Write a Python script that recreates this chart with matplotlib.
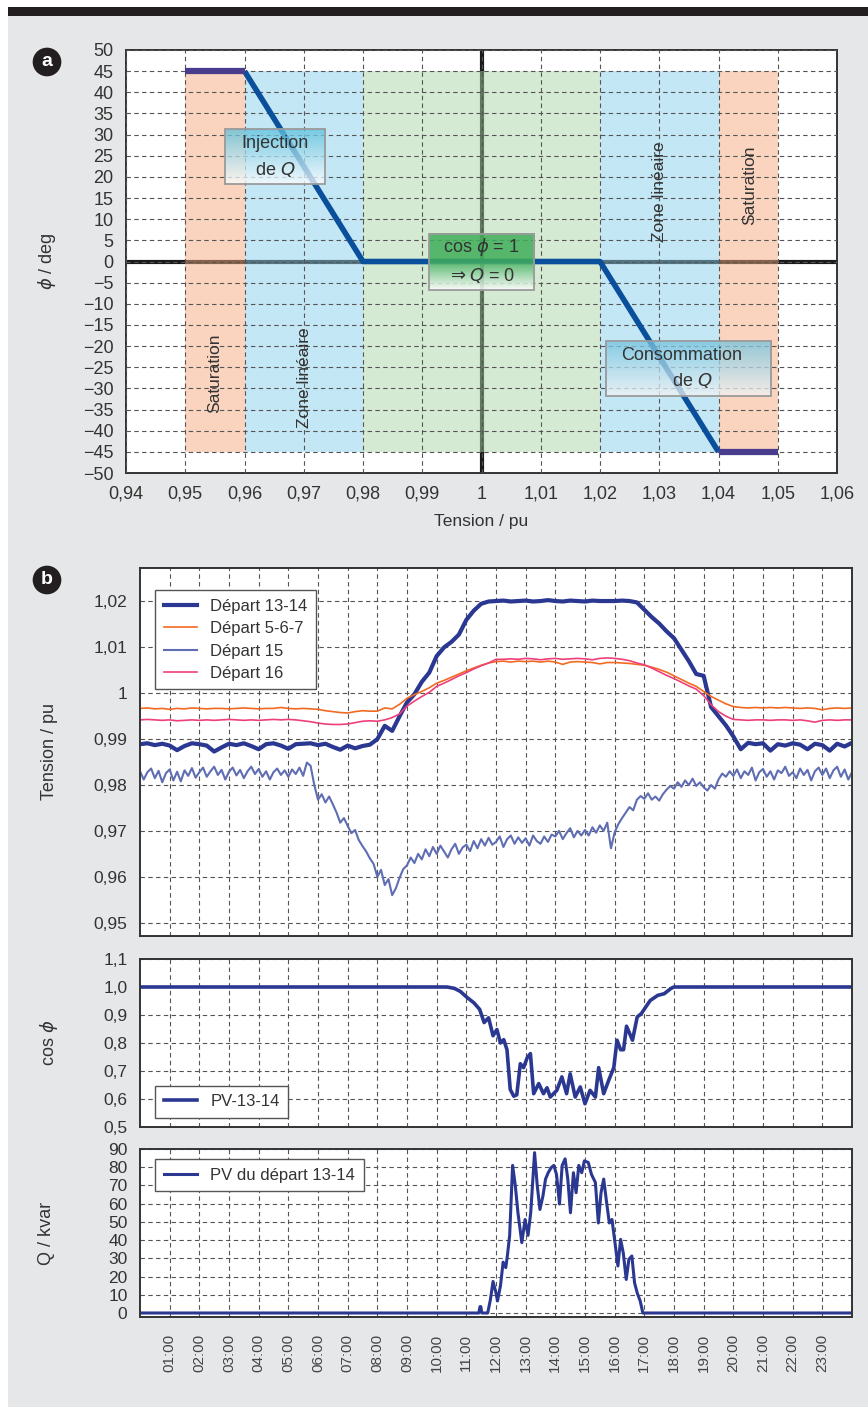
import numpy as np
import matplotlib
matplotlib.use('Agg')
import matplotlib.pyplot as plt
from matplotlib.patches import Rectangle
from matplotlib.colors import to_rgb

plt.rcParams['font.family'] = ['Liberation Sans', 'DejaVu Sans']
plt.rcParams['text.color'] = '#333333'
plt.rcParams['axes.labelcolor'] = '#333333'
plt.rcParams['xtick.color'] = '#333333'
plt.rcParams['ytick.color'] = '#333333'

# ---------------- panel a : control law phi(U) ----------------
u_law = [0.96, 0.98, 1.02, 1.04]
phi_law = [45, 0, 0, -45]
u_sat_low = [0.95, 0.96]
phi_sat_low = [45, 45]
u_sat_high = [1.04, 1.05]
phi_sat_high = [-45, -45]
zone_edges = [0.95, 0.96, 0.98, 1.02, 1.04, 1.05]
zone_names = ['Saturation', 'Zone linéaire', '', 'Zone linéaire', 'Saturation']
u_ticks = [0.94, 0.95, 0.96, 0.97, 0.98, 0.99, 1.00, 1.01, 1.02, 1.03, 1.04, 1.05, 1.06]
u_labels = ['0,94', '0,95', '0,96', '0,97', '0,98', '0,99', '1', '1,01', '1,02',
            '1,03', '1,04', '1,05', '1,06']
phi_ticks = list(range(-50, 51, 5))

# ---------------- panel b : measured day ----------------
hours = np.arange(0, 24.01, 0.25)
dep_13_14 = [
    0.9889, 0.9891, 0.9887, 0.9890, 0.9886, 0.9876, 0.9885, 0.9891,
    0.9889, 0.9886, 0.9873, 0.9882, 0.9890, 0.9887, 0.9891, 0.9885,
    0.9878, 0.9889, 0.9891, 0.9886, 0.9879, 0.9889, 0.9890, 0.9891,
    0.9887, 0.9890, 0.9883, 0.9877, 0.9886, 0.9880, 0.9885, 0.9888,
    0.9900, 0.9929, 0.9918, 0.9950, 0.9980, 0.9998, 1.0025, 1.0045,
    1.0081, 1.0100, 1.0112, 1.0128, 1.0160, 1.0180, 1.0195, 1.0200,
    1.0201, 1.0202, 1.0200, 1.0201, 1.0202, 1.0200, 1.0201, 1.0203,
    1.0201, 1.0200, 1.0202, 1.0201, 1.0200, 1.0202, 1.0201, 1.0201,
    1.0201, 1.0202, 1.0201, 1.0198, 1.0182, 1.0166, 1.0152, 1.0135,
    1.0120, 1.0095, 1.0070, 1.0042, 1.0038, 0.9970, 0.9950, 0.9930,
    0.9906, 0.9878, 0.9892, 0.9889, 0.9891, 0.9875, 0.9889, 0.9886,
    0.9891, 0.9888, 0.9878, 0.9890, 0.9887, 0.9875, 0.9890, 0.9884,
    0.9892]
dep_5_6_7 = [
    0.9967, 0.9968, 0.9966, 0.9967, 0.9965, 0.9967, 0.9966, 0.9968,
    0.9967, 0.9966, 0.9967, 0.9967, 0.9966, 0.9967, 0.9968, 0.9967,
    0.9966, 0.9967, 0.9967, 0.9969, 0.9967, 0.9966, 0.9967, 0.9966,
    0.9965, 0.9962, 0.9960, 0.9958, 0.9957, 0.9960, 0.9962, 0.9961,
    0.9961, 0.9968, 0.9966, 0.9976, 0.9989, 0.9997, 1.0004, 1.0012,
    1.0022, 1.0028, 1.0035, 1.0042, 1.0049, 1.0055, 1.0061, 1.0066,
    1.0069, 1.0070, 1.0068, 1.0070, 1.0069, 1.0070, 1.0068, 1.0070,
    1.0068, 1.0063, 1.0068, 1.0069, 1.0068, 1.0067, 1.0064, 1.0067,
    1.0067, 1.0066, 1.0065, 1.0063, 1.0061, 1.0057, 1.0052, 1.0046,
    1.0038, 1.0030, 1.0022, 1.0015, 1.0004, 0.9993, 0.9985, 0.9977,
    0.9971, 0.9969, 0.9968, 0.9969, 0.9968, 0.9969, 0.9968, 0.9969,
    0.9968, 0.9967, 0.9968, 0.9967, 0.9964, 0.9967, 0.9968, 0.9967,
    0.9968]
dep_16 = [
    0.9942, 0.9943, 0.9942, 0.9941, 0.9942, 0.9940, 0.9941, 0.9942,
    0.9941, 0.9942, 0.9941, 0.9942, 0.9943, 0.9942, 0.9941, 0.9942,
    0.9941, 0.9942, 0.9943, 0.9942, 0.9943, 0.9942, 0.9940, 0.9938,
    0.9935, 0.9933, 0.9932, 0.9932, 0.9933, 0.9936, 0.9939, 0.9940,
    0.9939, 0.9942, 0.9947, 0.9955, 0.9972, 0.9983, 0.9993, 1.0002,
    1.0015, 1.0022, 1.0030, 1.0038, 1.0045, 1.0053, 1.0060, 1.0066,
    1.0074, 1.0074, 1.0075, 1.0074, 1.0076, 1.0075, 1.0073, 1.0075,
    1.0076, 1.0074, 1.0075, 1.0076, 1.0075, 1.0073, 1.0076, 1.0077,
    1.0076, 1.0074, 1.0071, 1.0066, 1.0062, 1.0055, 1.0047, 1.0039,
    1.0032, 1.0024, 1.0016, 1.0009, 0.9995, 0.9975, 0.9960, 0.9950,
    0.9943, 0.9942, 0.9941, 0.9942, 0.9942, 0.9941, 0.9942, 0.9942,
    0.9941, 0.9942, 0.9940, 0.9937, 0.9941, 0.9942, 0.9941, 0.9942,
    0.9942]

# Départ 15 is much noisier: read on a finer time step
hours_15 = np.arange(0, 24.01, 0.125)
dep_15 = [
    0.9830, 0.9812, 0.9828, 0.9836, 0.9815, 0.9831, 0.9806, 0.9826,
    0.9834, 0.9810, 0.9829, 0.9808, 0.9832, 0.9820, 0.9837, 0.9816,
    0.9828, 0.9838, 0.9818, 0.9830, 0.9840, 0.9822, 0.9833, 0.9812,
    0.9829, 0.9838, 0.9821, 0.9833, 0.9815, 0.9830, 0.9840, 0.9824,
    0.9835, 0.9818, 0.9830, 0.9812, 0.9828, 0.9836, 0.9822, 0.9832,
    0.9818, 0.9834, 0.9824, 0.9838, 0.9820, 0.9849, 0.9842, 0.9800,
    0.9768, 0.9780, 0.9762, 0.9775, 0.9758, 0.9740, 0.9718, 0.9728,
    0.9711, 0.9695, 0.9702, 0.9680, 0.9667, 0.9655, 0.9640, 0.9628,
    0.9600, 0.9615, 0.9582, 0.9595, 0.9560, 0.9575, 0.9598, 0.9617,
    0.9625, 0.9642, 0.9630, 0.9650, 0.9638, 0.9660, 0.9645, 0.9665,
    0.9650, 0.9668, 0.9655, 0.9642, 0.9660, 0.9672, 0.9650, 0.9664,
    0.9670, 0.9656, 0.9678, 0.9662, 0.9682, 0.9668, 0.9685, 0.9670,
    0.9676, 0.9688, 0.9665, 0.9682, 0.9690, 0.9672, 0.9686, 0.9674,
    0.9684, 0.9668, 0.9690, 0.9678, 0.9672, 0.9688, 0.9676, 0.9692,
    0.9688, 0.9700, 0.9682, 0.9695, 0.9706, 0.9686, 0.9700, 0.9690,
    0.9702, 0.9690, 0.9708, 0.9696, 0.9712, 0.9700, 0.9718, 0.9662,
    0.9697, 0.9715, 0.9728, 0.9740, 0.9752, 0.9745, 0.9768, 0.9776,
    0.9770, 0.9782, 0.9768, 0.9775, 0.9766, 0.9780, 0.9790, 0.9798,
    0.9792, 0.9806, 0.9796, 0.9810, 0.9800, 0.9814, 0.9798, 0.9806,
    0.9795, 0.9788, 0.9800, 0.9792, 0.9812, 0.9825, 0.9818, 0.9830,
    0.9820, 0.9834, 0.9815, 0.9830, 0.9822, 0.9838, 0.9810, 0.9828,
    0.9835, 0.9818, 0.9830, 0.9812, 0.9832, 0.9826, 0.9840, 0.9820,
    0.9828, 0.9815, 0.9836, 0.9822, 0.9833, 0.9810, 0.9830, 0.9838,
    0.9822, 0.9836, 0.9815, 0.9832, 0.9840, 0.9818, 0.9834, 0.9812,
    0.9828]

t_cos = [0, 10.35, 10.6, 10.8, 11.0, 11.26, 11.45, 11.6, 11.75, 11.9, 12.03, 12.15,
         12.26, 12.37, 12.48, 12.6, 12.7, 12.82, 12.93, 13.05, 13.16, 13.27, 13.44,
         13.6, 13.72, 13.83, 13.95, 14.05, 14.22, 14.38, 14.5, 14.67, 14.84, 15.0,
         15.17, 15.35, 15.46, 15.63, 15.8, 15.97, 16.08, 16.2, 16.3, 16.4, 16.6,
         16.76, 16.9, 17.05, 17.2, 17.45, 17.67, 17.9, 18.0, 24]
cos_pv = [1.0, 1.0, 0.995, 0.984, 0.965, 0.943, 0.92, 0.873, 0.89, 0.826, 0.848, 0.80,
          0.812, 0.776, 0.634, 0.61, 0.615, 0.726, 0.712, 0.747, 0.762, 0.619, 0.655,
          0.619, 0.64, 0.607, 0.62, 0.631, 0.679, 0.619, 0.69, 0.607, 0.643, 0.583,
          0.631, 0.607, 0.712, 0.619, 0.667, 0.712, 0.81, 0.776, 0.776, 0.86, 0.81,
          0.893, 0.905, 0.929, 0.952, 0.97, 0.976, 0.995, 1.0, 1.0]

t_q = [0, 11.42, 11.46, 11.49, 11.52, 11.72, 11.81, 11.9, 12.0, 12.05, 12.15, 12.24,
       12.33, 12.39, 12.46, 12.56, 12.65, 12.74, 12.87, 12.98, 13.08, 13.17, 13.3,
       13.39, 13.48, 13.58, 13.67, 13.76, 13.86, 13.95, 14.04, 14.14, 14.23, 14.33,
       14.42, 14.51, 14.61, 14.7, 14.79, 14.89, 14.98, 15.11, 15.22, 15.35, 15.45,
       15.54, 15.63, 15.73, 15.82, 15.91, 16.01, 16.11, 16.2, 16.29, 16.39, 16.48,
       16.58, 16.67, 16.76, 16.86, 16.95, 24]
q_pv = [0, 0, 3.5, 3.5, 0, 0, 7.2, 17.3, 11, 6.6, 14.9, 27.9,
        24.9, 32.3, 42.6, 81, 70, 55, 38.6, 51.3, 42.6, 55, 88,
        70, 56.8, 64, 73.5, 77, 79.8, 81, 76, 59.8, 81, 84.6,
        73.5, 55, 77, 66, 81, 77, 83.5, 82.6, 76, 71.6, 49.4,
        66, 73.5, 60.5, 49.4, 51.3, 38.6, 25.8, 40.4, 33, 18.4, 29.5,
        31.3, 16.6, 11, 6.6, 0, 0]

hour_ticks = list(range(1, 24))
hour_labels = ['%02d:00' % h for h in hour_ticks]
u_ticks_b = [0.95, 0.96, 0.97, 0.98, 0.99, 1.00, 1.01, 1.02]
u_labels_b = ['0,95', '0,96', '0,97', '0,98', '0,99', '1', '1,01', '1,02']
cos_ticks = [0.5, 0.6, 0.7, 0.8, 0.9, 1.0, 1.1]
cos_labels = ['0,5', '0,6', '0,7', '0,8', '0,9', '1,0', '1,1']
q_ticks = list(range(0, 91, 10))

W, H = 868, 1407
GRID = dict(color='#555555', lw=0.8, ls=(0, (4, 3)))
LEG = dict(fontsize=12, frameon=True, fancybox=False, edgecolor='#555555',
           framealpha=1, handlelength=2.0, borderpad=0.5, labelspacing=0.45)


def fbox(l, t, r, b):
    return [l / W, 1 - b / H, (r - l) / W, (b - t) / H]


def grad_box(ax, x0, x1, y0, y1, top, bottom='#ffffff', solid=0.0, alpha=0.75):
    n = 100
    c0 = np.array(to_rgb(top))
    c1 = np.array(to_rgb(bottom))
    f = np.linspace(0, 1, n)
    f = np.clip((f - solid) / (1 - solid), 0, 1)[:, None]
    img = (c0 * (1 - f) + c1 * f)[:, None, :]
    ax.imshow(img, extent=(x0, x1, y0, y1), aspect='auto', origin='upper',
              zorder=5, alpha=alpha, interpolation='bilinear')
    ax.add_patch(Rectangle((x0, y0), x1 - x0, y1 - y0, fc='none', ec='#9a9a9a',
                           lw=1.3, zorder=6))


fig = plt.figure(figsize=(W / 100, H / 100), dpi=100, facecolor='white')
fig.patches.append(Rectangle((8 / W, 0), 1, 1 - 16 / H, transform=fig.transFigure,
                             fc='#e6e7e8', ec='none', zorder=-2))
fig.patches.append(Rectangle((8 / W, 1 - 16 / H), 1, 9 / H, transform=fig.transFigure,
                             fc='#231f20', ec='none', zorder=-1))

for letter, yp in [('a', 62), ('b', 580)]:
    fig.text(47 / W, 1 - yp / H, letter, ha='center', va='center', color='white',
             fontsize=14, fontweight='bold',
             bbox=dict(boxstyle='circle,pad=0.3', fc='#231f20', ec='none'))

# ---------------- panel a ----------------
ax = fig.add_axes(fbox(126, 50, 837, 473))
zone_cols = ['#f7ab7f', '#8bd0ef', '#add7a7', '#8bd0ef', '#f7ab7f']
for i in range(5):
    ax.fill_between([zone_edges[i], zone_edges[i + 1]], -45, 45, color=zone_cols[i],
                    alpha=0.5, lw=0, zorder=1)
ax.axhline(0, color='#1a1a1a', lw=3, zorder=0.5)
ax.axvline(1.0, color='#1a1a1a', lw=3, zorder=0.5)
ax.plot(u_law, phi_law, color='#0a4f9c', lw=4, zorder=4, solid_capstyle='butt')
ax.plot(u_sat_low, phi_sat_low, color='#4a3c8c', lw=4.5, zorder=4, solid_capstyle='butt')
ax.plot(u_sat_high, phi_sat_high, color='#4a3c8c', lw=4.5, zorder=4, solid_capstyle='butt')
ax.set_xlim(0.94, 1.06)
ax.set_ylim(-50, 50)
ax.set_xticks(u_ticks)
ax.set_xticklabels(u_labels)
ax.set_yticks(phi_ticks)
ax.set_yticklabels([str(v).replace('-', '\u2212') for v in phi_ticks])
ax.tick_params(length=0, labelsize=13, pad=9)
ax.set_axisbelow(False)
ax.grid(True, **GRID)
for s in ax.spines.values():
    s.set_color('#333333')
    s.set_linewidth(1.4)
ax.set_xlabel('Tension / pu', fontsize=12.5, labelpad=8)
ax.set_ylabel('$\\phi$ / deg', fontsize=13, labelpad=18)

# zone captions
ax.text(0.955, -26.5, zone_names[0], rotation=90, ha='center', va='center', fontsize=12.5, zorder=7)
ax.text(0.9702, -27.5, zone_names[1], rotation=90, ha='center', va='center', fontsize=12.5, zorder=7)
ax.text(1.0301, 16.5, zone_names[3], rotation=90, ha='center', va='center', fontsize=12.5, zorder=7)
ax.text(1.0453, 18, zone_names[4], rotation=90, ha='center', va='center', fontsize=12.5, zorder=7)

# annotation boxes
grad_box(ax, 0.9567, 0.9736, 18.4, 31.4, '#5cc0dc')
ax.text(0.9652, 27.8, 'Injection', ha='center', va='center', fontsize=13, zorder=7)
ax.text(0.9652, 21.8, 'de $Q$', ha='center', va='center', fontsize=13, zorder=7)
grad_box(ax, 0.9911, 1.0089, -6.7, 6.6, '#3fae5a', solid=0.5, alpha=0.85)
ax.text(1.0, 3.5, 'cos $\\phi$ = 1', ha='center', va='center', fontsize=13, zorder=7)
ax.text(1.0, -3.2, '$\\Rightarrow Q$ = 0', ha='center', va='center', fontsize=13, zorder=7)
grad_box(ax, 1.0210, 1.0489, -31.8, -18.8, '#73c3de', bottom='#f4f4f4')
ax.text(1.0338, -22.2, 'Consommation', ha='center', va='center', fontsize=13, zorder=7)
ax.text(1.0355, -28.2, 'de $Q$', ha='center', va='center', fontsize=13, zorder=7)

# ---------------- panel b ----------------
navy = '#2b3892'


def style_b(a):
    a.set_xlim(0, 24)
    a.set_xticks(hour_ticks)
    a.grid(True, **GRID)
    a.tick_params(length=0, labelsize=12.5, pad=9)
    for s in a.spines.values():
        s.set_color('#333333')
        s.set_linewidth(1.4)


ax1 = fig.add_axes(fbox(140, 568, 852, 936))
ax1.plot(hours, dep_13_14, color=navy, lw=3, label='Départ 13-14')
ax1.plot(hours, dep_5_6_7, color='#f26a21', lw=1.2, label='Départ 5-6-7')
ax1.plot(hours_15, dep_15, color='#5f6db3', lw=1.5, label='Départ 15')
ax1.plot(hours, dep_16, color='#ee3f7a', lw=1.2, label='Départ 16')
style_b(ax1)
ax1.set_ylim(0.9471, 1.0273)
ax1.set_yticks(u_ticks_b)
ax1.set_yticklabels(u_labels_b)
ax1.set_xticklabels([])
ax1.set_ylabel('Tension / pu', fontsize=13, labelpad=26)
ax1.legend(loc='upper left', bbox_to_anchor=(0.01, 0.962), **LEG)

ax2 = fig.add_axes(fbox(140, 959, 852, 1127))
ax2.plot(t_cos, cos_pv, color=navy, lw=2.6, label='PV-13-14')
style_b(ax2)
ax2.set_ylim(0.5, 1.1)
ax2.set_yticks(cos_ticks)
ax2.set_yticklabels(cos_labels)
ax2.set_xticklabels([])
ax2.set_ylabel('cos $\\phi$', fontsize=13, labelpad=31)
ax2.legend(loc='lower left', bbox_to_anchor=(0.01, 0.006), **LEG)

ax3 = fig.add_axes(fbox(140, 1149, 852, 1317))
ax3.plot(t_q, q_pv, color=navy, lw=2.2, label='PV du départ 13-14')
style_b(ax3)
ax3.set_ylim(-2.2, 90)
ax3.set_yticks(q_ticks)
ax3.set_xticklabels(hour_labels, rotation=90, fontsize=11, color='#444444')
ax3.tick_params(axis='x', pad=12)
ax3.set_ylabel('Q / kvar', fontsize=13, labelpad=38)
ax3.legend(loc='upper left', bbox_to_anchor=(0.01, 0.988), **LEG)

fig.savefig('out.png', dpi=100, facecolor=fig.get_facecolor())
